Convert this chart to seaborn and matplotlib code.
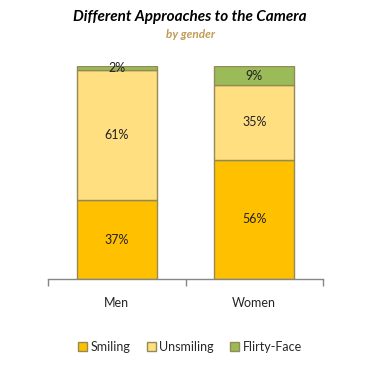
import matplotlib
matplotlib.use("Agg")
import matplotlib.pyplot as plt
import seaborn as sns
import pandas as pd
import numpy as np
from matplotlib.patches import Patch

categories = ["Men", "Women"]
smiling = [37, 56]
unsmiling = [61, 35]
flirty = [2, 9]
series_names = ["Smiling", "Unsmiling", "Flirty-Face"]
colors = ["#FFC000", "#FFDF80", "#9BBB59"]
edge = "#948A54"

sns.set_theme(style="white")
plt.rcParams["font.family"] = ["Lato", "DejaVu Sans"]

fig = plt.figure(figsize=(3.77, 3.65), dpi=100)
ax = fig.add_axes([48/377, 1-279/365, 275/377, 213/365])

series = [smiling, unsmiling, flirty]
bottom = np.zeros(len(categories))
for name, vals, col in zip(series_names, series, colors):
    df = pd.DataFrame({"cat": categories, "val": vals})
    sns.barplot(data=df, x="cat", y="val", ax=ax, color=col, bottom=bottom,
                width=0.58, edgecolor=edge, linewidth=1.0, saturation=1)
    for i, v in enumerate(vals):
        ax.text(i, bottom[i] + v/2, f"{v}%", ha="center", va="center",
                fontsize=9, color="#222222")
    bottom = bottom + np.array(vals)

ax.set_xlim(-0.5, 1.5)
ax.set_ylim(0, 100)
ax.set_ylabel("")
ax.set_xlabel("")
ax.set_yticks([])
for s in ["top", "right", "left"]:
    ax.spines[s].set_visible(False)
ax.spines["bottom"].set_color("#868686")
ax.spines["bottom"].set_linewidth(1.0)
ax.set_xticks([0, 1])
ax.set_xticklabels(categories, fontsize=9)
ax.tick_params(axis="x", which="major", length=0, pad=13)
ax.set_xticks([-0.5, 0.5, 1.5], minor=True)
ax.tick_params(axis="x", which="minor", length=5, color="#868686", width=1.0, bottom=True)

fig.text(190/377, 1-17/365, "Different Approaches to the Camera", ha="center", va="center",
         fontsize=11, fontweight="bold", fontstyle="italic", color="black")
fig.text(190/377, 1-35/365, "by gender", ha="center", va="center",
         fontsize=8.5, fontweight="bold", fontstyle="italic", color="#BF9B55")

handles = [Patch(facecolor=c, edgecolor=edge, label=n) for n, c in zip(series_names, colors)]
fig.legend(handles=handles, loc="center", bbox_to_anchor=(190/377, 1-347/365), ncol=3,
           frameon=False, fontsize=9, handlelength=0.7, handleheight=0.7,
           handletextpad=0.3, columnspacing=1.3)

fig.savefig("out.png", dpi=100)
